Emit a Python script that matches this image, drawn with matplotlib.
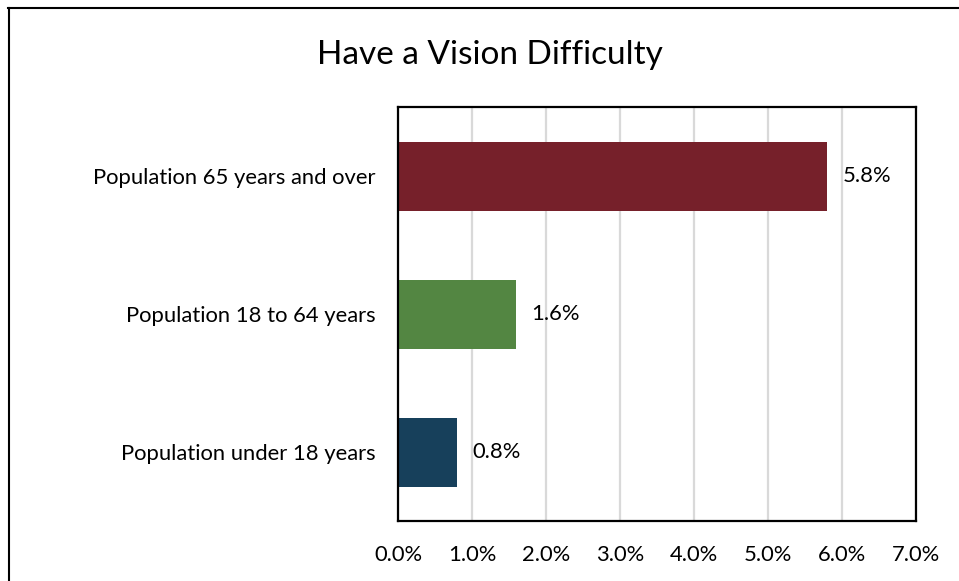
import matplotlib
matplotlib.use("Agg")
import matplotlib.pyplot as plt
from matplotlib.lines import Line2D
from matplotlib.ticker import FuncFormatter

title = "Have a Vision Difficulty"
categories = ["Population 65 years and over", "Population 18 to 64 years", "Population under 18 years"]
values = [5.8, 1.6, 0.8]
colors = ["#76202A", "#538642", "#17405B"]
xticks = [0, 1, 2, 3, 4, 5, 6, 7]

plt.rcParams['font.family'] = ['Lato', 'DejaVu Sans']

W, H = 959, 581
fig = plt.figure(figsize=(W / 100, H / 100), dpi=100)
fig.patch.set_facecolor("white")

ax = fig.add_axes([398 / W, 1 - 521 / H, (916 - 398) / W, (521 - 107) / H])

ypos = list(range(len(categories)))
ax.barh(ypos, values, height=0.5, color=colors, zorder=3)
ax.set_ylim(len(categories) - 0.5, -0.5)
ax.set_xlim(0, 7)
ax.set_yticks(ypos)
ax.set_yticklabels(categories, fontsize=15.8, color="#000000")
ax.set_xticks(xticks)
ax.xaxis.set_major_formatter(FuncFormatter(lambda v, p: f"{v:.1f}%"))
ax.tick_params(axis="x", length=0, pad=17, labelsize=15.8)
ax.tick_params(axis="y", length=0, pad=16)
ax.grid(axis="x", color="#D9D9D9", linewidth=1.6, zorder=0)
ax.set_axisbelow(True)
for s in ax.spines.values():
    s.set_color("black")
    s.set_linewidth(1.6)
    s.set_zorder(4)

for y, v in zip(ypos, values):
    ax.annotate(f"{v:.1f}%", xy=(v, y), xytext=(11, 0), textcoords="offset points",
                ha="left", va="center", fontsize=15.8, color="#000000")

fig.text(490 / W, 1 - 55 / H, title, ha="center", va="center", fontsize=24, color="#000000")

fig.add_artist(Line2D([8.5 / W, 8.5 / W], [0, 1 - 8 / H], transform=fig.transFigure, color="black", linewidth=1.5))
fig.add_artist(Line2D([8 / W, 1], [1 - 8 / H, 1 - 8 / H], transform=fig.transFigure, color="black", linewidth=1.5))

fig.savefig("out.png", dpi=100, facecolor="white")
